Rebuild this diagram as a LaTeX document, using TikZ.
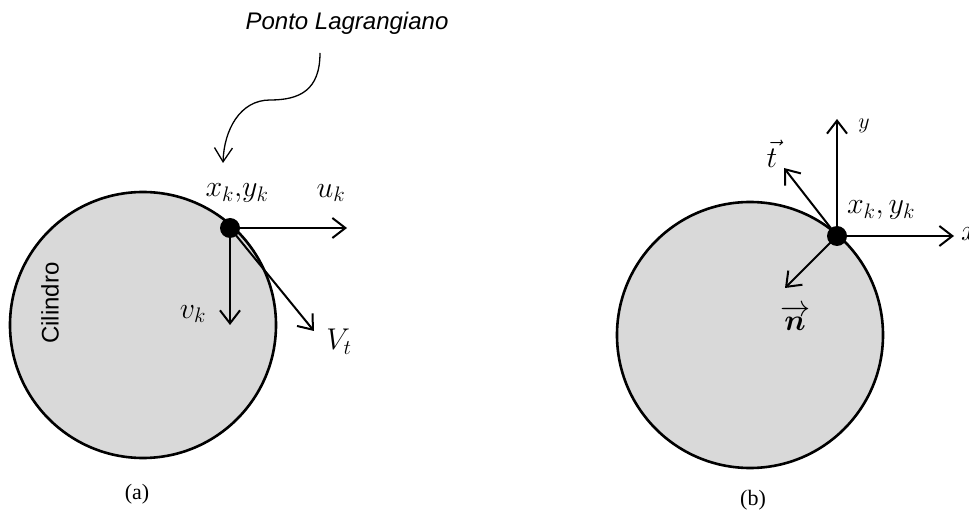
\RequirePackage{fix-cm}
\documentclass[tikz,border=0pt]{standalone}
\usepackage{amsmath}
\usepackage{fontspec}
\setmainfont{Liberation Serif}
\setsansfont{Liberation Sans}
\usepackage{tikz}
\usetikzlibrary{arrows.meta}
\definecolor{cylgray}{RGB}{217, 217, 217}
\DeclareMathSizes{30}{30}{21}{15}
\DeclareMathSizes{22}{22}{15}{11}

\begin{document}
\begin{tikzpicture}[x=1pt, y=-1pt,
  cyl/.style={draw, circle, line width=2.6pt, fill=cylgray, minimum size=266pt, inner sep=0pt},
  dot/.style={circle, fill=black, minimum size=20pt, inner sep=0pt},
  vec/.style={line width=2pt, -{Straight Barb[length=13pt, width=20pt, line width=2pt]}},
  mathlbl/.style={font=\fontsize{30}{36}\selectfont, inner sep=0pt},
  sanslbl/.style={font=\fontsize{24}{28}\selectfont\sffamily, inner sep=0pt},
  caplbl/.style={font=\fontsize{22}{26}\selectfont, inner sep=0pt}]
\useasboundingbox (0,0) rectangle (969,510);

% (a) cilindro com ponto lagrangiano
\node[cyl] (cylA) at (143,325) {};
\node[sanslbl, rotate=90] (cil) at (50,303) {Cilindro};
\node[dot] (pA) at (230,228) {};
\coordinate (uA) at (347,228);
\coordinate (vA) at (230,325);
\coordinate (tA) at (314,331);
\draw[vec] (pA.center) -- (uA);
\draw[vec] (pA.center) -- (vA);
\draw[vec] (pA.center) -- (tA);
\node[mathlbl] (xyA) at (237,193) {$x_k{,}y_k$};
\node[mathlbl] (ulbl) at (331,193) {$u_k$};
\node[mathlbl] (vlbl) at (193,314) {$v_k$};
\node[mathlbl] (Vlbl) at (339,342) {$V_t$};
\node[sanslbl, font=\fontsize{24}{28}\selectfont\sffamily\itshape] (ponto) at (347,23) {Ponto Lagrangiano};
\coordinate (curveA) at (320,53);
\coordinate (tipA) at (223,163);
\draw[line width=1.3pt, -{Straight Barb[length=14pt, width=18pt, line width=1.3pt]}]
  (curveA) .. controls (320,90) and (300,100) .. (270,100)
  .. controls (240,100) and (224,130) .. (tipA);
\node[caplbl] (capA) at (137,494) {(a)};

% (b) sistema de coordenadas local
\node[cyl] (cylB) at (750,335) {};
\node[dot] (pB) at (837,236) {};
\coordinate (xB) at (954,236);
\coordinate (yB) at (837,119);
\coordinate (tB) at (784,168);
\coordinate (nB) at (785,288);
\draw[vec] (pB.center) -- (xB);
\draw[vec] (pB.center) -- (yB);
\draw[vec] (pB.center) -- (tB);
\draw[vec] (pB.center) -- (nB);
\node[mathlbl, anchor=west] (xlbl) at (961,234) {$x$};
\node[mathlbl, font=\fontsize{22}{26}\selectfont] (ylbl) at (864,126) {$y$};
\node[mathlbl] (tlbl) at (772,154) {$\vec{t}$};
\node[mathlbl] (nlbl) at (795,318) {$\overrightarrow{\boldsymbol{n}}$};
\node[mathlbl] (xyB) at (881,210) {$x_k,y_k$};
\node[caplbl] (capB) at (753,500) {(b)};
\end{tikzpicture}
\end{document}
